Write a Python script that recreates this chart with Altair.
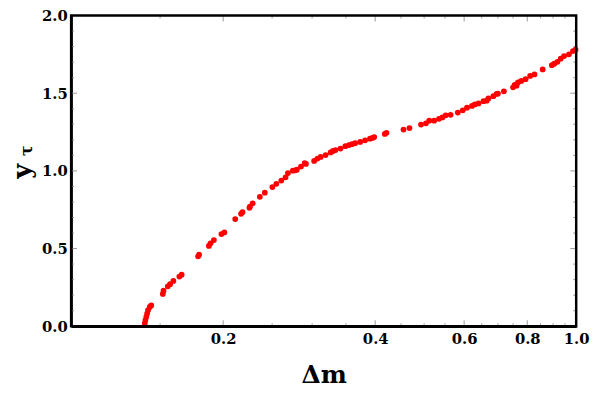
import altair as alt
import pandas as pd

# Data (delta m, y_tau)
dm = [0.1399, 0.1403, 0.1409, 0.1414, 0.1420, 0.1431, 0.1441, 0.1519, 0.1524, 0.1554,
      0.1570, 0.1594, 0.1638, 0.1655, 0.1784, 0.1792, 0.1874, 0.1888, 0.1917, 0.1984,
      0.2011, 0.2113, 0.2170, 0.2184, 0.2254, 0.2288, 0.2364, 0.2418, 0.2503, 0.2549,
      0.2607, 0.2658, 0.2687, 0.2748, 0.2798, 0.2852, 0.2917, 0.3028, 0.3074, 0.3191,
      0.3264, 0.3338, 0.3414, 0.3491, 0.3598, 0.3735, 0.3819, 0.3906, 0.3982, 0.4179,
      0.4211, 0.4551, 0.4676, 0.4929, 0.5041, 0.5117, 0.5233, 0.5433, 0.5516, 0.5641,
      0.5829, 0.5962, 0.6078, 0.6217, 0.6407, 0.6553, 0.6702, 0.6854, 0.6957, 0.7192,
      0.7499, 0.7556, 0.7670, 0.7785, 0.7941, 0.8107, 0.8269, 0.8583, 0.8951, 0.9183,
      0.9318, 0.9462, 0.9676, 0.9853, 0.9970,
      0.2260, 0.2780, 0.2900, 0.3120, 0.3300, 0.3550, 0.3650, 0.3950, 0.5350, 0.6300,
      0.6650, 0.7000, 0.7620, 0.9050]
ytau = [0.019, 0.040, 0.061, 0.082, 0.103, 0.124, 0.134, 0.208, 0.229, 0.257,
        0.271, 0.292, 0.320, 0.332, 0.450, 0.461, 0.517, 0.534, 0.555, 0.593,
        0.604, 0.690, 0.724, 0.734, 0.762, 0.791, 0.833, 0.860, 0.896, 0.917,
        0.938, 0.959, 0.986, 1.001, 1.008, 1.028, 1.045, 1.064, 1.079, 1.102,
        1.119, 1.134, 1.144, 1.159, 1.172, 1.186, 1.197, 1.207, 1.218, 1.238,
        1.245, 1.266, 1.276, 1.298, 1.306, 1.323, 1.323, 1.344, 1.358, 1.361,
        1.375, 1.390, 1.407, 1.418, 1.434, 1.449, 1.466, 1.481, 1.495, 1.512,
        1.538, 1.554, 1.569, 1.579, 1.590, 1.611, 1.621, 1.653, 1.680, 1.702,
        1.722, 1.739, 1.750, 1.771, 1.780,
        0.770, 1.004, 1.050, 1.090, 1.128, 1.166, 1.178, 1.212, 1.335, 1.428,
        1.452, 1.498, 1.548, 1.690]

x_major = [0.2, 0.4, 0.6, 0.8, 1.0]
x_minor = [0.15, 0.25, 0.3, 0.35, 0.45, 0.5, 0.55, 0.65, 0.7, 0.75, 0.85, 0.9, 0.95]
y_major = [0.0, 0.5, 1.0, 1.5, 2.0]
y_minor = [0.1, 0.2, 0.3, 0.4, 0.6, 0.7, 0.8, 0.9, 1.1, 1.2, 1.3, 1.4, 1.6, 1.7, 1.8, 1.9]

W, H = 512, 315
FONT = "DejaVu Serif"
TICK_COLOR = "#999999"

xscale = alt.Scale(type="log", domain=[0.1, 1.0], nice=False)
yscale = alt.Scale(domain=[0, 2], nice=False, zero=False)

pts = pd.DataFrame({"dm": dm, "y": ytau})

points = alt.Chart(pts).mark_circle(size=34, color="#ff0000", opacity=1).encode(
    x=alt.X("dm:Q", scale=xscale,
            axis=alt.Axis(values=x_major, format=".1f", title="Δm", ticks=False,
                          grid=False, labelFlush=False, labelPadding=5,
                          titleFontSize=25, titlePadding=17)),
    y=alt.Y("y:Q", scale=yscale,
            axis=alt.Axis(values=y_major, format=".1f", title="y", ticks=False,
                          grid=False, labelPadding=4, labelFlush=False,
                          titleFontSize=26, titlePadding=6)),
)

def xticks(vals, length, bottom=True):
    df = pd.DataFrame({"dm": vals})
    if bottom:
        yy, yy2 = alt.value(H), alt.value(H - length)
    else:
        yy, yy2 = alt.value(0), alt.value(length)
    return alt.Chart(df).mark_rule(color=TICK_COLOR, strokeWidth=1).encode(
        x=alt.X("dm:Q", scale=xscale), y=yy, y2=yy2)

def yticks(vals, length, left=True):
    df = pd.DataFrame({"y": vals})
    if left:
        xx, xx2 = alt.value(0), alt.value(length)
    else:
        xx, xx2 = alt.value(W), alt.value(W - length)
    return alt.Chart(df).mark_rule(color=TICK_COLOR, strokeWidth=1).encode(
        y=alt.Y("y:Q", scale=yscale), x=xx, x2=xx2)

frame = alt.Chart(pd.DataFrame({"f": [1]})).mark_rect(
    fill=None, stroke="black", strokeWidth=2.5
).encode(x=alt.value(0), x2=alt.value(W), y=alt.value(0), y2=alt.value(H))

tau = alt.Chart(pd.DataFrame({"t": ["τ"]})).mark_text(
    font=FONT, fontSize=16, fontWeight="bold", angle=270, color="black",
    align="center", baseline="middle"
).encode(text="t:N", x=alt.value(-45), y=alt.value(137))

chart = alt.layer(
    points,
    xticks(x_major, 6, True), xticks(x_minor, 3, True),
    xticks(x_major, 6, False), xticks(x_minor, 3, False),
    yticks(y_major, 6, True), yticks(y_minor, 3, True),
    yticks(y_major, 6, False), yticks(y_minor, 3, False),
    frame, tau,
).properties(
    width=W, height=H,
    background="white",
    autosize=alt.AutoSizeParams(type="none"),
    padding={"left": 64, "top": 5, "right": 14, "bottom": 62},
).configure_view(
    stroke=None
).configure_axis(
    labelFont=FONT, labelFontWeight="bold", labelFontSize=15, labelColor="black",
    titleFont=FONT, titleFontWeight="bold", titleColor="black",
    domainColor="black", domainWidth=2.5,
)

chart.save("out.html", embed_options={"renderer": "svg", "actions": False})
